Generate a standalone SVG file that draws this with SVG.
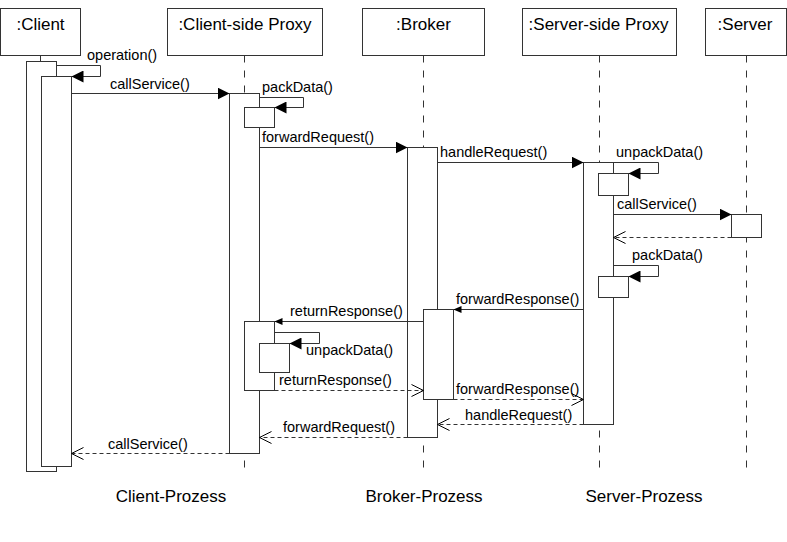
<svg xmlns="http://www.w3.org/2000/svg" width="787" height="542" viewBox="0 0 787 542">
<defs>
<style>
.box{fill:#fff;stroke:#333;stroke-width:1}
.life{stroke:#333;stroke-width:1;stroke-dasharray:7 8;fill:none}
.msg{stroke:#333;stroke-width:1;fill:none}
.ret{stroke:#333;stroke-width:1;fill:none;stroke-dasharray:4 3}
.t{font-family:"Liberation Sans",Arial,sans-serif;font-size:14.5px;fill:#000}
.h{font-size:17px;text-anchor:middle}
.p{font-size:17px;text-anchor:middle}
</style>
<marker id="fa" markerUnits="userSpaceOnUse" markerWidth="12" markerHeight="12" refX="12" refY="6" orient="auto" viewBox="0 0 12 12">
<path d="M0,0 L12,6 L0,12 z" fill="#000"/>
</marker>
<marker id="fs" markerUnits="userSpaceOnUse" markerWidth="8" markerHeight="7" refX="8" refY="3.5" orient="auto" viewBox="0 0 8 7">
<path d="M0,0 L8,3.5 L0,7 z" fill="#000"/>
</marker>
<marker id="oa" markerUnits="userSpaceOnUse" markerWidth="14" markerHeight="14" refX="13" refY="7" orient="auto" viewBox="0 0 14 14">
<path d="M1,1 L13,7 L1,13" fill="none" stroke="#000" stroke-width="1"/>
</marker>
</defs>
<rect x="0" y="0" width="787" height="542" fill="#fff"/>

<g id="client">
<rect class="box" x="0.5" y="8.5" width="80" height="47"/>
<text class="t h" x="40.5" y="30">:Client</text>
<line class="life" x1="40.5" y1="55.5" x2="40.5" y2="474"/>
<rect class="box" x="26.5" y="61.5" width="30" height="410"/>
<rect class="box" x="41.5" y="76.5" width="30" height="390"/>
</g>

<g id="client-proxy">
<rect class="box" x="167.5" y="8.5" width="155" height="47"/>
<text class="t h" x="245" y="30">:Client-side Proxy</text>
<line class="life" x1="244.5" y1="55.5" x2="244.5" y2="474"/>
<rect class="box" x="229.5" y="93.5" width="30" height="360"/>
<rect class="box" x="244.5" y="107.5" width="30" height="20"/>
<rect class="box" x="244.5" y="321.5" width="30" height="69"/>
<rect class="box" x="259.5" y="343.5" width="30" height="29"/>
</g>

<g id="broker">
<rect class="box" x="362.5" y="8.5" width="122" height="47"/>
<text class="t h" x="423.5" y="30">:Broker</text>
<line class="life" x1="423.5" y1="55.5" x2="423.5" y2="474"/>
<rect class="box" x="407.5" y="147.5" width="30" height="290"/>
<rect class="box" x="423.5" y="309.5" width="30" height="90"/>
</g>

<g id="server-proxy">
<rect class="box" x="522.5" y="8.5" width="154" height="47"/>
<text class="t h" x="598.5" y="30">:Server-side Proxy</text>
<line class="life" x1="599.5" y1="55.5" x2="599.5" y2="474"/>
<rect class="box" x="583.5" y="162.5" width="30" height="262"/>
<rect class="box" x="598.5" y="173.5" width="30" height="22"/>
<rect class="box" x="598.5" y="276.5" width="30" height="21"/>
</g>

<g id="server">
<rect class="box" x="705.5" y="8.5" width="81" height="47"/>
<text class="t h" x="745" y="30">:Server</text>
<line class="life" x1="746.5" y1="55.5" x2="746.5" y2="474"/>
<rect class="box" x="731.5" y="214.5" width="30" height="23"/>
</g>

<g id="connectors">
<polyline class="msg" points="56.5,65.5 100.5,65.5 100.5,76.5 71.5,76.5" marker-end="url(#fa)"/>
<text class="t" x="87" y="60">operation()</text>
<line class="msg" x1="71.5" y1="93.5" x2="229.5" y2="93.5" marker-end="url(#fa)"/>
<text class="t" x="110" y="88.5">callService()</text>
<polyline class="msg" points="259.5,97.5 303.5,97.5 303.5,107.5 274.5,107.5" marker-end="url(#fa)"/>
<text class="t" x="262" y="92">packData()</text>
<line class="msg" x1="259.5" y1="147.5" x2="407.5" y2="147.5" marker-end="url(#fa)"/>
<text class="t" x="262" y="142">forwardRequest()</text>
<line class="msg" x1="437.5" y1="162.5" x2="583.5" y2="162.5" marker-end="url(#fa)"/>
<text class="t" x="440" y="157">handleRequest()</text>
<polyline class="msg" points="613.5,162.5 658.5,162.5 658.5,173.5 628.5,173.5" marker-end="url(#fa)"/>
<text class="t" x="616" y="157">unpackData()</text>
<line class="msg" x1="613.5" y1="214.5" x2="731.5" y2="214.5" marker-end="url(#fa)"/>
<text class="t" x="617" y="209">callService()</text>
<line class="ret" x1="731.5" y1="237.5" x2="613.5" y2="237.5" marker-end="url(#oa)"/>
<polyline class="msg" points="613.5,265.5 658.5,265.5 658.5,276.5 628.5,276.5" marker-end="url(#fa)"/>
<text class="t" x="632" y="260">packData()</text>
<line class="msg" x1="583.5" y1="309.5" x2="453.5" y2="309.5" marker-end="url(#fs)"/>
<text class="t" x="456" y="304">forwardResponse()</text>
<line class="msg" x1="423.5" y1="321.5" x2="274.5" y2="321.5" marker-end="url(#fs)"/>
<text class="t" x="290" y="316">returnResponse()</text>
<polyline class="msg" points="274.5,332.5 319.5,332.5 319.5,343.5 289.5,343.5" marker-end="url(#fa)"/>
<text class="t" x="306" y="355">unpackData()</text>
<line class="ret" x1="274.5" y1="390.5" x2="423.5" y2="390.5" marker-end="url(#oa)"/>
<text class="t" x="279" y="385">returnResponse()</text>
<line class="ret" x1="453.5" y1="399.5" x2="583.5" y2="399.5" marker-end="url(#oa)"/>
<text class="t" x="456" y="394">forwardResponse()</text>
<line class="ret" x1="583.5" y1="424.5" x2="437.5" y2="424.5" marker-end="url(#oa)"/>
<text class="t" x="465" y="420">handleRequest()</text>
<line class="ret" x1="407.5" y1="437.5" x2="259.5" y2="437.5" marker-end="url(#oa)"/>
<text class="t" x="283" y="432">forwardRequest()</text>
<line class="ret" x1="229.5" y1="453.5" x2="71.5" y2="453.5" marker-end="url(#oa)"/>
<text class="t" x="108" y="449">callService()</text>
</g>

<g id="process-labels">
<text class="t p" x="171" y="502">Client-Prozess</text>
<text class="t p" x="424" y="502">Broker-Prozess</text>
<text class="t p" x="644" y="502">Server-Prozess</text>
</g>
</svg>
